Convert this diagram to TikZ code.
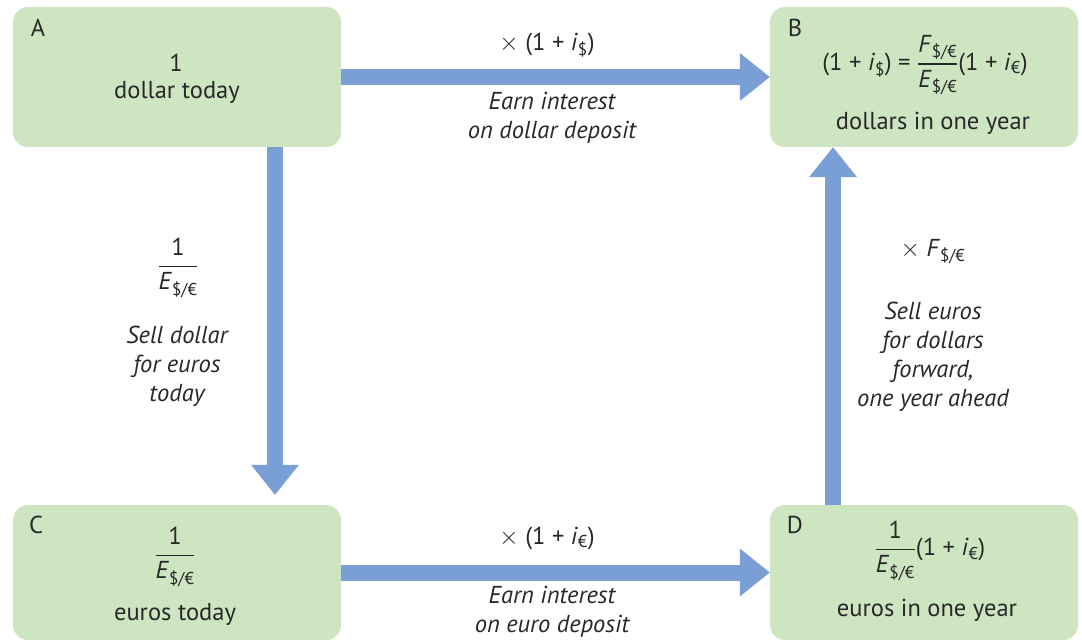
\documentclass[tikz,border=0pt]{standalone}
\usepackage{fontspec}
\usepackage{amsmath}
\setmainfont{PT Sans}
\usetikzlibrary{arrows.meta}
\definecolor{boxgreen}{RGB}{206,229,193}
\definecolor{arrblue}{RGB}{122,158,214}
\definecolor{txtgray}{RGB}{40,40,40}
\newcommand{\sdE}{\textsubscript{\$/€}}
\newcommand{\tms}{\ensuremath{\times}}
\newcommand{\myfr}[2]{\ensuremath{\genfrac{}{}{1.2pt}{0}{\text{#1}}{\text{#2}}}}
\tikzset{
  box/.style={rectangle, rounded corners=15pt, fill=boxgreen, draw=none, inner sep=0pt},
  arr/.style={line width=16pt, draw=arrblue, -{Triangle[width=48pt,length=30pt,line width=0pt]}},
  itl/.style={align=center, font=\fontsize{24.5}{29}\selectfont\itshape},
  ctr/.style={align=center}
}
\begin{document}
\begin{tikzpicture}[x=1pt, y=-1pt, font=\fontsize{24.5}{29}\selectfont, text=txtgray]
\useasboundingbox (0,0) rectangle (1082,644);
% boxes
\node[box, minimum width=328pt, minimum height=140pt] (A) at (177,77) {};
\node[box, minimum width=308pt, minimum height=140pt] (B) at (924,77) {};
\node[box, minimum width=328pt, minimum height=135pt] (C) at (177,572.5) {};
\node[box, minimum width=308pt, minimum height=135pt] (D) at (924,572.5) {};
% arrows
\draw[arr] (A.east) -- (B.west);
\draw[arr] (C.east) -- (D.west);
\draw[arr, shorten >=10pt] ([xshift=98pt]A.south) -- ([xshift=98pt]C.north);
\draw[arr] ([xshift=-91pt]D.north) -- ([xshift=-91pt]B.south);
% box texts
\node (Alab) at (38,28) {A};
\node (Aval) at (176,63) {1};
\node (Atxt) at (177,92) {dollar today};
\node (Blab) at (795,28) {B};
\node (Bval) at (925,65) {(1 + \textit{i}\textsubscript{\$}) = \myfr{\textit{F}\sdE}{\textit{E}\sdE}(1 + \textit{i}\textsubscript{€})};
\node (Btxt) at (933,123) {dollars in one year};
\node (Clab) at (36,525) {C};
\node (Cval) at (175,557) {\myfr{1}{\textit{E}\sdE}};
\node (Ctxt) at (175,614) {euros today};
\node (Dlab) at (795,525) {D};
\node (Dval) at (930,551) {\myfr{1}{\textit{E}\sdE}(1 + \textit{i}\textsubscript{€})};
\node (Dtxt) at (927,610) {euros in one year};
% arrow labels
\node (Tval) at (547,45) {\tms{} (1 + \textit{i}\textsubscript{\$})};
\node[itl] (Ttxt) at (552,118) {Earn interest\\on dollar deposit};
\node (Bmval) at (547,538) {\tms{} (1 + \textit{i}\textsubscript{€})};
\node[itl] (Bmtxt) at (552,612) {Earn interest\\on euro deposit};
\node (Lval) at (178,268) {\myfr{1}{\textit{E}\sdE}};
\node[itl] (Ltxt) at (177,366) {Sell dollar\\for euros\\today};
\node (Rval) at (933,252) {\tms{} \textit{F}\sdE};
\node[itl] (Rtxt) at (933,357) {Sell euros\\for dollars\\forward,\\one year ahead};
\end{tikzpicture}
\end{document}
